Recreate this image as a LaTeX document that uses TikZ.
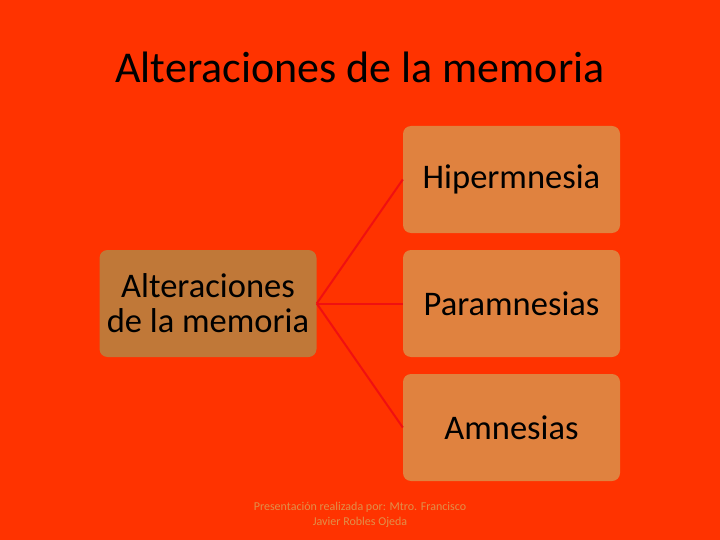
\documentclass[tikz,border=0pt]{standalone}
\usepackage{fontspec}
\setmainfont{Carlito}
\definecolor{bg}{HTML}{FF3300}
\definecolor{boxr}{HTML}{E0823F}
\definecolor{boxl}{HTML}{C07838}
\definecolor{linec}{HTML}{F01010}
\definecolor{foot}{HTML}{E0904A}
\begin{document}
\begin{tikzpicture}[x=1pt,y=-1pt,
  itembox/.style={fill=boxr, rounded corners=8pt, minimum width=217pt, minimum height=107pt, inner sep=0pt, font=\fontsize{34.5}{35}\selectfont, text=black, align=center},
  rootbox/.style={itembox, fill=boxl},
  conn/.style={draw=linec, line width=2pt}]
\fill[bg] (0,0) rectangle (720,540);
\useasboundingbox (0,0) rectangle (720,540);
\node[font=\fontsize{44}{48}\selectfont, text=black] (title) at (360,67) {Alteraciones de la memoria};
\node[rootbox] (root) at (208,303.5) {Alteraciones\\de la memoria};
\node[itembox] (h) at (511.5,179.5) {Hipermnesia};
\node[itembox] (p) at (511.5,303.5) {Paramnesias};
\node[itembox] (a) at (511.5,427.5) {Amnesias};
\draw[conn] (root.east) -- (h.west);
\draw[conn] (root.east) -- (p.west);
\draw[conn] (root.east) -- (a.west);
\node[font=\fontsize{12}{15}\selectfont, text=foot, align=center] (footer) at (360,515) {Presentación realizada por: Mtro. Francisco\\Javier Robles Ojeda};
\end{tikzpicture}
\end{document}
